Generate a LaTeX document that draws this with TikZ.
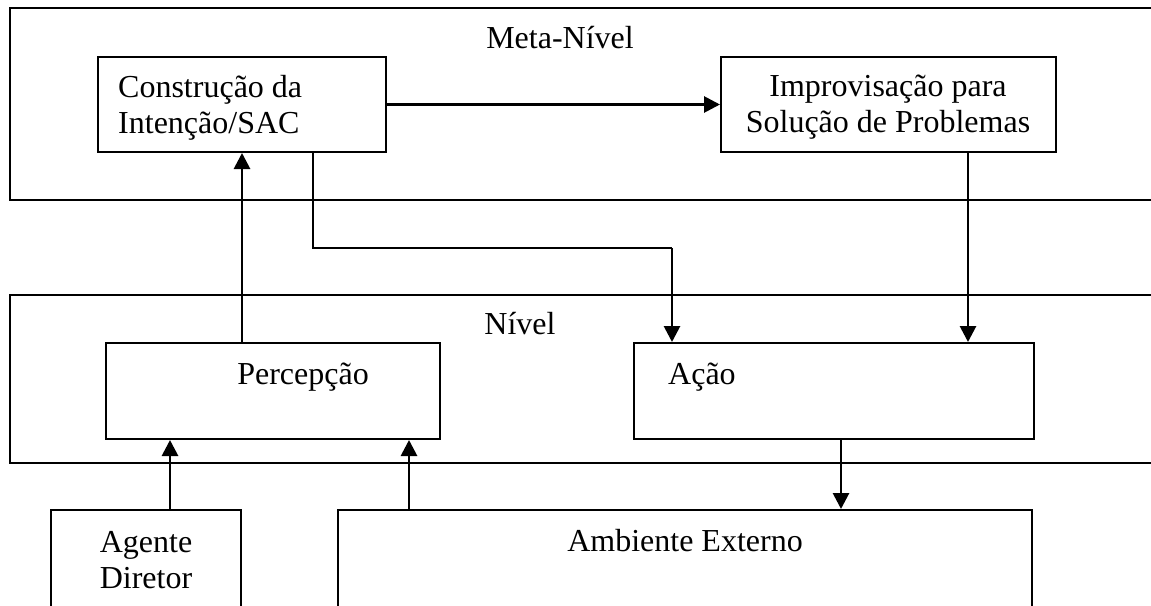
\documentclass[tikz,border=0pt]{standalone}
\usepackage{fontspec}
\setmainfont{Liberation Serif}
\usetikzlibrary{arrows.meta}
\begin{document}
\begin{tikzpicture}[x=1pt,y=-1pt,
  box/.style={draw,line width=2pt,inner sep=0pt},
  lbl/.style={inner sep=0pt,font=\fontsize{32}{36.5}\selectfont},
  arr/.style={line width=2.8pt,-{Triangle[length=16pt,width=16pt]}},
  route/.style={line width=2.4pt}]
\clip (0,0) rectangle (1151,605);
\fill[white] (0,0) rectangle (1151,605);
% level boxes
\node[box,minimum width=1160pt,minimum height=192pt] (meta) at (590,104) {};
\node[box,minimum width=1160pt,minimum height=168pt] (nivel) at (590,379) {};
% inner boxes
\node[box,minimum width=288pt,minimum height=95pt] (cons) at (242,104.5) {};
\node[box,minimum width=335pt,minimum height=95pt] (impr) at (888.5,104.5) {};
\node[box,minimum width=334pt,minimum height=96pt] (perc) at (273,391) {};
\node[box,minimum width=400pt,minimum height=96pt] (acao) at (834,391) {};
\node[box,minimum width=190pt,minimum height=120pt] (agente) at (146,570) {};
\node[box,minimum width=694pt,minimum height=120pt] (amb) at (685,570) {};
% labels
\node[lbl,anchor=base] (tmeta) at (560,48) {Meta-Nível};
\node[lbl,anchor=base] (tnivel) at (520,334) {Nível};
\node[lbl,anchor=west,align=left] (tcons) at (118,108) {Construção da\\Intenção/SAC};
\node[lbl,anchor=center,align=center] (timpr) at (888,107) {Improvisação para\\Solução de Problemas};
\node[lbl,anchor=base] (tperc) at (303,384) {Percepção};
\node[lbl,anchor=base west] (tacao) at (668,384) {Ação};
\node[lbl,anchor=base] (tamb) at (685,551) {Ambiente Externo};
\node[lbl,anchor=center,align=center] (tagente) at (146,560) {Agente\\Diretor};
% connector coordinates
\coordinate (xa) at (242,0);
\coordinate (b1) at (313,248);
\coordinate (b2) at (672,248);
\coordinate (xi) at (968,0);
\coordinate (xg) at (170,0);
\coordinate (xe) at (409,0);
\coordinate (xo) at (841,0);
% connectors
\draw[arr] (cons.east) -- (impr.west);
\draw[arr] (perc.north -| xa) -- (cons.south -| xa);
\draw[route] (cons.south -| b1) -- (b1) -- (b2);
\draw[arr] (b2) -- (acao.north -| b2);
\draw[arr] (impr.south -| xi) -- (acao.north -| xi);
\draw[arr] (agente.north -| xg) -- (perc.south -| xg);
\draw[arr] (amb.north -| xe) -- (perc.south -| xe);
\draw[arr] (acao.south -| xo) -- (amb.north -| xo);
\end{tikzpicture}
\end{document}
